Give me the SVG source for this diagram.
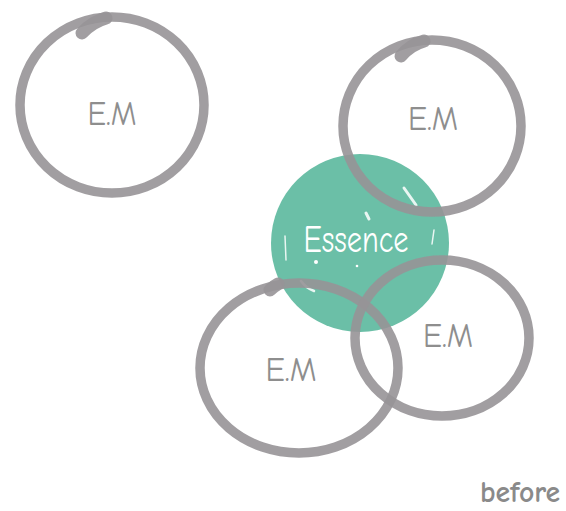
<svg xmlns="http://www.w3.org/2000/svg" width="566" height="511" viewBox="0 0 566 511">
<style>
.ring{fill:none;stroke:#979397;stroke-opacity:0.9;stroke-width:9.5}
.blob{fill:none;stroke:#979397;stroke-opacity:0.9;stroke-width:13;stroke-linecap:round}
.lbl{font-family:"Comic Neue","Open Sans","Liberation Sans",sans-serif;font-size:35px;fill:#8e8e8e;text-anchor:middle}
.hl{fill:none;stroke:#ffffff;stroke-linecap:round;stroke-opacity:0.85}
</style>
<rect width="566" height="511" fill="#ffffff"/>
<g id="essence">
<circle cx="360" cy="243" r="89" fill="#6bbfa7"/>
<path class="hl" stroke-width="3" d="M404 188 L416 205"/>
<path class="hl" stroke-width="3" d="M366 213 L369 219"/>
<path class="hl" stroke-width="2.5" d="M301 281 Q306 288 314 291"/>
<path class="hl" stroke-width="1.5" d="M285 236 L286 260"/>
<path class="hl" stroke-width="1.5" d="M434 230 L432 244"/>
<circle cx="316" cy="262" r="2" fill="#ffffff"/>
<circle cx="357" cy="266" r="1.3" fill="#ffffff"/>
<text x="356" y="252" font-family="'Comic Neue','Open Sans','Liberation Sans',sans-serif" font-size="39" fill="#ffffff" text-anchor="middle" textLength="105" lengthAdjust="spacingAndGlyphs">Essence</text>
</g>
<g id="em1">
<ellipse class="ring" cx="112" cy="105" rx="92" ry="88"/>
<path class="blob" d="M82 33 Q92 22 106 18"/>
<text class="lbl" x="112" y="125" textLength="49" lengthAdjust="spacingAndGlyphs">E.M</text>
</g>
<g id="em2">
<ellipse class="ring" cx="432" cy="126" rx="89" ry="86"/>
<path class="blob" d="M401 56 Q410 45 424 41"/>
<text class="lbl" x="433" y="130" textLength="50" lengthAdjust="spacingAndGlyphs">E.M</text>
</g>
<g id="em3">
<ellipse class="ring" cx="299" cy="368" rx="99" ry="85"/>
<path class="blob" d="M270 290 Q274 286 278 284"/>
<text class="lbl" x="291" y="381" textLength="51" lengthAdjust="spacingAndGlyphs">E.M</text>
</g>
<g id="em4">
<ellipse class="ring" cx="442" cy="338" rx="87" ry="78"/>
<text class="lbl" x="448" y="347" textLength="50" lengthAdjust="spacingAndGlyphs">E.M</text>
</g>
<text x="480" y="502" font-family="'Comic Neue','Open Sans','Liberation Sans',sans-serif" font-size="30" font-weight="bold" fill="#8a8a8a" textLength="80" lengthAdjust="spacingAndGlyphs">before</text>
</svg>
